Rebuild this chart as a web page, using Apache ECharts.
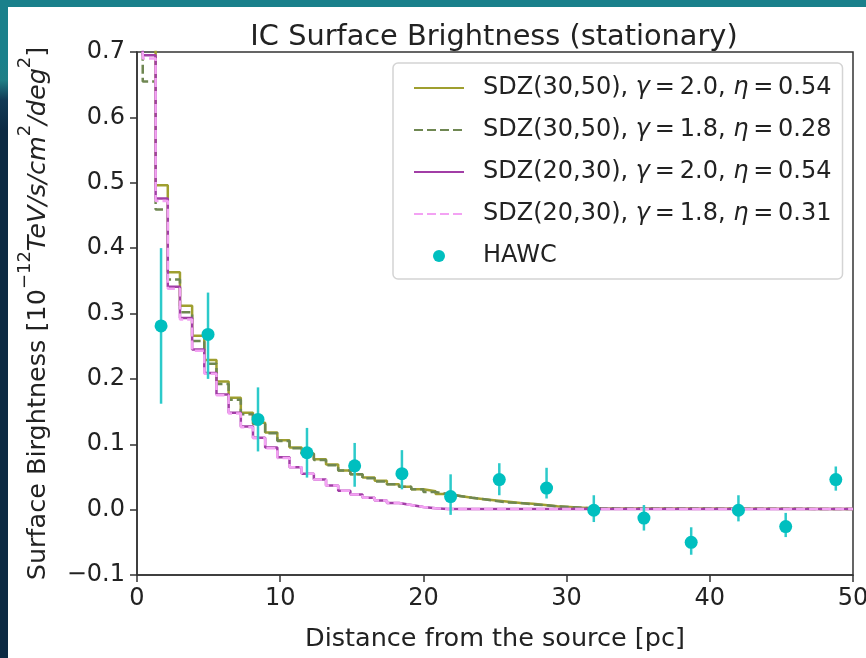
<!DOCTYPE html>
<html>
<head>
<meta charset="utf-8">
<script src="https://cdn.jsdelivr.net/npm/echarts@6/dist/echarts.min.js"></script>
<style>
html,body{margin:0;padding:0;width:866px;height:658px;overflow:hidden;background:#0c2a43;}
#topband{position:absolute;left:0;top:0;width:866px;height:7px;background:#1a808b;}
#leftband{position:absolute;left:0;top:0;width:8px;height:658px;background:linear-gradient(to bottom,#1a808b 0px,#1a808b 60px,#1f7f86 80px,#123a55 100px,#0c2a43 130px,#0c2a43 658px);}
#chart{position:absolute;left:8px;top:7px;width:858px;height:651px;background:#ffffff;}
</style>
</head>
<body>
<div id="topband"></div>
<div id="leftband"></div>
<div id="chart"></div>
<script>
// ---- data ----
const binEdges = [0, 0.4, 1.3, 2.15, 3.0, 3.85, 4.7, 5.55, 6.4, 7.25, 8.1, 8.95, 9.8, 10.65, 11.5, 12.35, 13.2, 14.05, 14.9, 15.75, 16.6, 17.45, 18.3, 19.15, 20.0, 20.85, 21.7, 22.55, 23.4, 24.25, 25.1, 25.95, 26.8, 27.65, 28.5, 29.35, 30.2, 31.05, 31.9, 50];

const sdz3050_g20 = [0.95, 0.80, 0.496, 0.363, 0.312, 0.266, 0.229, 0.196, 0.171, 0.148, 0.133, 0.118, 0.106, 0.095, 0.086, 0.077, 0.069, 0.060, 0.054, 0.049, 0.044, 0.039, 0.035, 0.031, 0.028, 0.024, 0.021, 0.018, 0.016, 0.014, 0.012, 0.010, 0.009, 0.007, 0.005, 0.004, 0.003, 0.002, 0.001];
const sdz3050_g18 = [0.95, 0.655, 0.459, 0.352, 0.302, 0.258, 0.223, 0.192, 0.168, 0.146, 0.131, 0.117, 0.105, 0.094, 0.085, 0.076, 0.068, 0.060, 0.054, 0.048, 0.043, 0.039, 0.035, 0.031, 0.027, 0.024, 0.021, 0.018, 0.016, 0.013, 0.011, 0.010, 0.008, 0.007, 0.005, 0.004, 0.003, 0.002, 0.001];
const sdz2030_g20 = [0.95, 0.695, 0.476, 0.341, 0.293, 0.245, 0.209, 0.176, 0.148, 0.127, 0.110, 0.095, 0.080, 0.065, 0.055, 0.046, 0.037, 0.029, 0.023, 0.018, 0.014, 0.010, 0.007, 0.004, 0.002, 0.001, 0.001, 0.001, 0.001, 0.001, 0.001, 0.001, 0.001, 0.001, 0.001, 0.001, 0.001, 0.001, 0.001];
const sdz2030_g18 = [0.95, 0.690, 0.472, 0.338, 0.291, 0.243, 0.208, 0.175, 0.147, 0.126, 0.109, 0.094, 0.079, 0.065, 0.055, 0.046, 0.037, 0.029, 0.023, 0.018, 0.014, 0.010, 0.007, 0.004, 0.002, 0.001, 0.001, 0.001, 0.001, 0.001, 0.001, 0.001, 0.001, 0.001, 0.001, 0.001, 0.001, 0.001, 0.001];

const hawcX   = [1.68, 4.96, 8.45, 11.87, 15.2, 18.5, 21.9, 25.3, 28.6, 31.9, 35.4, 38.7, 42.0, 45.3, 48.8];
const hawcY   = [0.281, 0.268, 0.138, 0.087, 0.067, 0.055, 0.020, 0.046, 0.033, -0.001, -0.013, -0.050, -0.001, -0.026, 0.046];
const hawcLo  = [0.162, 0.200, 0.089, 0.049, 0.035, 0.031, -0.008, 0.022, 0.017, -0.019, -0.032, -0.069, -0.018, -0.042, 0.029];
const hawcHi  = [0.400, 0.332, 0.187, 0.125, 0.102, 0.091, 0.054, 0.071, 0.064, 0.022, 0.007, -0.027, 0.022, -0.005, 0.066];

const seriesNames = [
  'SDZ(30,50), γ=2.0, η=0.54',
  'SDZ(30,50), γ=1.8, η=0.28',
  'SDZ(20,30), γ=2.0, η=0.54',
  'SDZ(20,30), γ=1.8, η=0.31',
  'HAWC'
];
const legendRich = [
  '{n|SDZ(30,50), }{i|γ}{n|\u2009=\u20092.0, }{i|η}{n|\u2009=\u20090.54}',
  '{n|SDZ(30,50), }{i|γ}{n|\u2009=\u20091.8, }{i|η}{n|\u2009=\u20090.28}',
  '{n|SDZ(20,30), }{i|γ}{n|\u2009=\u20092.0, }{i|η}{n|\u2009=\u20090.54}',
  '{n|SDZ(20,30), }{i|γ}{n|\u2009=\u20091.8, }{i|η}{n|\u2009=\u20090.31}',
  '{n|HAWC}'
];
const xTicks = [0, 10, 20, 30, 40, 50];

// ---- build ----
function stepData(vals){
  const d = vals.map((v,i)=>[binEdges[i], v]);
  d.push([binEdges[binEdges.length-1], vals[vals.length-1]]);
  return d;
}
const FONT = 'DejaVu Sans';
const TXT = '#222222';

const chart = echarts.init(document.getElementById('chart'), null, {renderer:'canvas'});

function lineSeries(name, vals, color, dashed, z){
  return {
    name: name, type:'line', step:'end', data: stepData(vals),
    symbol:'none', showSymbol:false, clip:true, z:z,
    lineStyle:{color:color, width:2.5, type: dashed ? [9,4] : 'solid'},
    itemStyle:{color:color},
    emphasis:{disabled:true}
  };
}
const hiddenSym = {color:'rgba(0,0,0,0)', borderWidth:0, opacity:0};

const option = {
  animation:false,
  backgroundColor:'#ffffff',
  title:{
    text:'IC Surface Brightness (stationary)',
    left:481, top:11, textAlign:'center',
    textStyle:{fontFamily:FONT, fontSize:28.8, fontWeight:'normal', color:TXT}
  },
  grid:{left:129, right:13, top:45, bottom:83, outerBoundsMode:'none', containLabel:false,
        show:true, borderColor:'#333333', borderWidth:1.5, backgroundColor:'transparent'},
  legend:{
    orient:'vertical', left:385, top:56,
    data: [
      {name:seriesNames[0], itemStyle:hiddenSym},
      {name:seriesNames[1], itemStyle:hiddenSym},
      {name:seriesNames[2], itemStyle:hiddenSym},
      {name:seriesNames[3], itemStyle:hiddenSym},
      {name:seriesNames[4]}
    ],
    itemWidth:50, itemHeight:12, itemGap:12,
    padding:[10,11,8,20],
    backgroundColor:'#ffffff', borderColor:'#d4d4d4', borderWidth:1.5, borderRadius:5,
    selectedMode:false,
    formatter: function(name){ return legendRich[seriesNames.indexOf(name)]; },
    textStyle:{
      fontFamily:FONT, fontSize:24, color:TXT, lineHeight:30, padding:[0,0,0,14],
      rich:{
        n:{fontFamily:FONT, fontSize:24, color:TXT, lineHeight:30},
        i:{fontFamily:FONT, fontSize:24, fontStyle:'italic', color:TXT, lineHeight:30}
      }
    }
  },
  xAxis:{
    type:'value', min:0, max:50, interval:10,
    name:'Distance from the source [pc]', nameLocation:'middle', nameGap:51,
    nameTextStyle:{fontFamily:FONT, fontSize:25.5, color:TXT},
    axisLine:{show:true, onZero:false, lineStyle:{color:'#333333', width:1.5}},
    axisTick:{show:true, inside:false, length:7, lineStyle:{color:'#333333', width:1.5}},
    axisLabel:{fontFamily:FONT, fontSize:24, color:TXT, margin:12,
      formatter: v => String(xTicks[xTicks.indexOf(Math.round(v))] ?? v)},
    splitLine:{show:false}
  },
  yAxis:{
    type:'value', min:-0.1, max:0.7, interval:0.1,
    name:'{n|Surface Birghtness [10}{s|−12}{i|TeV/s/cm}{s|2}{i|/deg}{s|2}{n|]}',
    nameLocation:'middle', nameGap:86, nameRotate:90,
    nameTextStyle:{
      fontFamily:FONT, fontSize:25.5, color:TXT,
      rich:{
        n:{fontFamily:FONT, fontSize:25.5, color:TXT, lineHeight:35, verticalAlign:'bottom'},
        i:{fontFamily:FONT, fontSize:25.5, fontStyle:'italic', color:TXT, lineHeight:35, verticalAlign:'bottom'},
        s:{fontFamily:FONT, fontSize:18, color:TXT, lineHeight:35, verticalAlign:'top'}
      }
    },
    axisLine:{show:true, onZero:false, lineStyle:{color:'#333333', width:1.5}},
    axisTick:{show:true, inside:false, length:7, lineStyle:{color:'#333333', width:1.5}},
    axisLabel:{fontFamily:FONT, fontSize:24, color:TXT, margin:12,
      formatter: v => Math.abs(v) < 1e-9 ? '0.0' : (v < 0 ? '\u2212' : '') + Math.abs(v).toFixed(1)},
    splitLine:{show:false}
  },
  series:[
    lineSeries(seriesNames[0], sdz3050_g20, '#9f9f2f', false, 2),
    lineSeries(seriesNames[1], sdz3050_g18, '#6f8752', true, 3),
    lineSeries(seriesNames[2], sdz2030_g20, '#a23ea6', false, 4),
    lineSeries(seriesNames[3], sdz2030_g18, '#f3a2f3', true, 5),
    {
      name:'HAWC err', type:'custom', z:6, clip:true,
      data: hawcX.map((x,i)=>[x, hawcLo[i], hawcHi[i]]),
      encode:{x:0, y:[1,2]},
      renderItem: function(params, api){
        const p1 = api.coord([api.value(0), api.value(1)]);
        const p2 = api.coord([api.value(0), api.value(2)]);
        return {type:'line', shape:{x1:p1[0], y1:p1[1], x2:p2[0], y2:p2[1]},
          style:{stroke:'#2ccaca', lineWidth:2.5}};
      }
    },
    {
      name:'HAWC', type:'scatter', z:7,
      data: hawcX.map((x,i)=>[x, hawcY[i]]),
      symbol:'circle', symbolSize:13,
      itemStyle:{color:'#00bfbf', opacity:1},
      emphasis:{disabled:true}
    }
  ]
};
chart.setOption(option);
</script>
</body>
</html>
